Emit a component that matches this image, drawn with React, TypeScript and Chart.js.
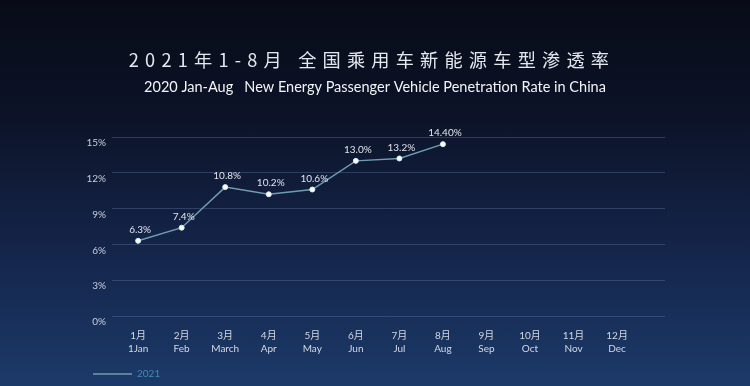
import { useEffect, useRef } from 'react';
import { Chart, registerables } from 'chart.js';

Chart.register(...registerables);

const TITLE = '2021年1-8月 全国乘用车新能源车型渗透率';
const SUBTITLE = '2020 Jan-Aug   New Energy Passenger Vehicle Penetration Rate in China';
const SERIES_NAME = '2021';
const MONTH_NUMS = [1, 2, 3, 4, 5, 6, 7, 8, 9, 10, 11, 12];
const MONTHS_CN = ['1月', '2月', '3月', '4月', '5月', '6月', '7月', '8月', '9月', '10月', '11月', '12月'];
const MONTHS_EN = ['1Jan', 'Feb', 'March', 'Apr', 'May', 'Jun', 'Jul', 'Aug', 'Sep', 'Oct', 'Nov', 'Dec'];
const RATES = [6.3, 7.4, 10.8, 10.2, 10.6, 13.0, 13.2, 14.4];
const RATE_LABELS = ['6.3%', '7.4%', '10.8%', '10.2%', '10.6%', '13.0%', '13.2%', '14.40%'];
const Y_TICKS = [0, 3, 6, 9, 12, 15];

const LATIN = "Lato, 'Noto Sans CJK SC', sans-serif";

const headerPlugin = {
  id: 'headerText',
  afterDraw(chart: any) {
    const ctx = chart.ctx as CanvasRenderingContext2D;
    ctx.save();
    ctx.textAlign = 'center';
    ctx.textBaseline = 'middle';
    ctx.fillStyle = '#e4e7ee';
    ctx.font = "18.2px 'Noto Sans CJK SC', sans-serif";
    (ctx as any).letterSpacing = '6.2px';
    ctx.fillText(TITLE, 369 + 3, 60.5);
    (ctx as any).letterSpacing = '0px';
    ctx.fillStyle = '#f2f4f7';
    ctx.font = '14.5px ' + LATIN;
    ctx.fillText(SUBTITLE, 375, 87);
    ctx.restore();
  },
};

const valueLabelPlugin = {
  id: 'valueLabels',
  afterDatasetsDraw(chart: any) {
    const ctx = chart.ctx as CanvasRenderingContext2D;
    const meta = chart.getDatasetMeta(0);
    ctx.save();
    ctx.textAlign = 'center';
    ctx.textBaseline = 'middle';
    ctx.fillStyle = '#dfe4ec';
    ctx.font = '10px ' + LATIN;
    meta.data.forEach((el: any, i: number) => {
      ctx.fillText(RATE_LABELS[i], el.x + 2, el.y - 11);
    });
    ctx.restore();
  },
};

export default function App() {
  const canvasRef = useRef<HTMLCanvasElement | null>(null);

  useEffect(() => {
    if (!canvasRef.current) return;
    const chart = new Chart(canvasRef.current, {
      type: 'line',
      data: {
        datasets: [
          {
            label: SERIES_NAME,
            data: RATES.map((v, i) => ({ x: MONTH_NUMS[i], y: v })),
            borderColor: '#6f9cb0',
            backgroundColor: '#8ea4bf',
            borderWidth: 1.5,
            tension: 0,
            pointRadius: 2.5,
            pointBackgroundColor: '#ffffff',
            pointBorderColor: '#d6ecf4',
            pointBorderWidth: 1,
          },
        ],
      },
      options: {
        animation: false,
        responsive: true,
        maintainAspectRatio: false,
        layout: { padding: { left: 83, right: 85, top: 137, bottom: -3 } },
        plugins: {
          title: { display: false },
          tooltip: { enabled: false },
          legend: {
            display: true,
            position: 'bottom',
            align: 'start',
            labels: {
              boxWidth: 39,
              boxHeight: 0,
              padding: 10,
              color: '#3f8bb6',
              font: { size: 10, family: LATIN },
            },
          },
        },
        scales: {
          x: {
            type: 'linear',
            min: 0.4,
            max: 13.1,
            grid: { display: false, drawTicks: false },
            border: { display: false },
            afterBuildTicks: (scale: any) => {
              scale.ticks = MONTH_NUMS.map((v) => ({ value: v }));
            },
            afterFit: (scale: any) => {
              scale.height = 43;
            },
            ticks: {
              autoSkip: false,
              maxRotation: 0,
              padding: 13,
              color: '#d3d8e2',
              font: { size: 10, family: LATIN, lineHeight: 1.3 },
              callback: (v: any) => {
                const i = MONTH_NUMS.indexOf(Number(v));
                return i >= 0 ? [MONTHS_CN[i], MONTHS_EN[i]] : '';
              },
            },
          },
          y: {
            min: 0,
            max: 15,
            grid: { color: 'rgba(110,130,175,0.35)', lineWidth: 1, drawTicks: false },
            border: { display: false },
            afterBuildTicks: (scale: any) => {
              scale.ticks = Y_TICKS.map((v) => ({ value: v }));
            },
            afterFit: (scale: any) => {
              scale.width = 29;
            },
            ticks: {
              padding: 6,
              labelOffset: 6,
              color: '#c9ceda',
              font: { size: 10, family: LATIN },
              callback: (v: any) => v + '%',
            },
          },
        },
      },
      plugins: [headerPlugin, valueLabelPlugin],
    });
    return () => chart.destroy();
  }, []);

  return (
    <div
      style={{
        position: 'fixed',
        left: 0,
        top: 0,
        width: 750,
        height: 386,
        background: 'linear-gradient(180deg, #080b17 0%, #0c1328 30%, #14254a 65%, #1c3a69 100%)',
      }}
    >
      <canvas ref={canvasRef} />
    </div>
  );
}
